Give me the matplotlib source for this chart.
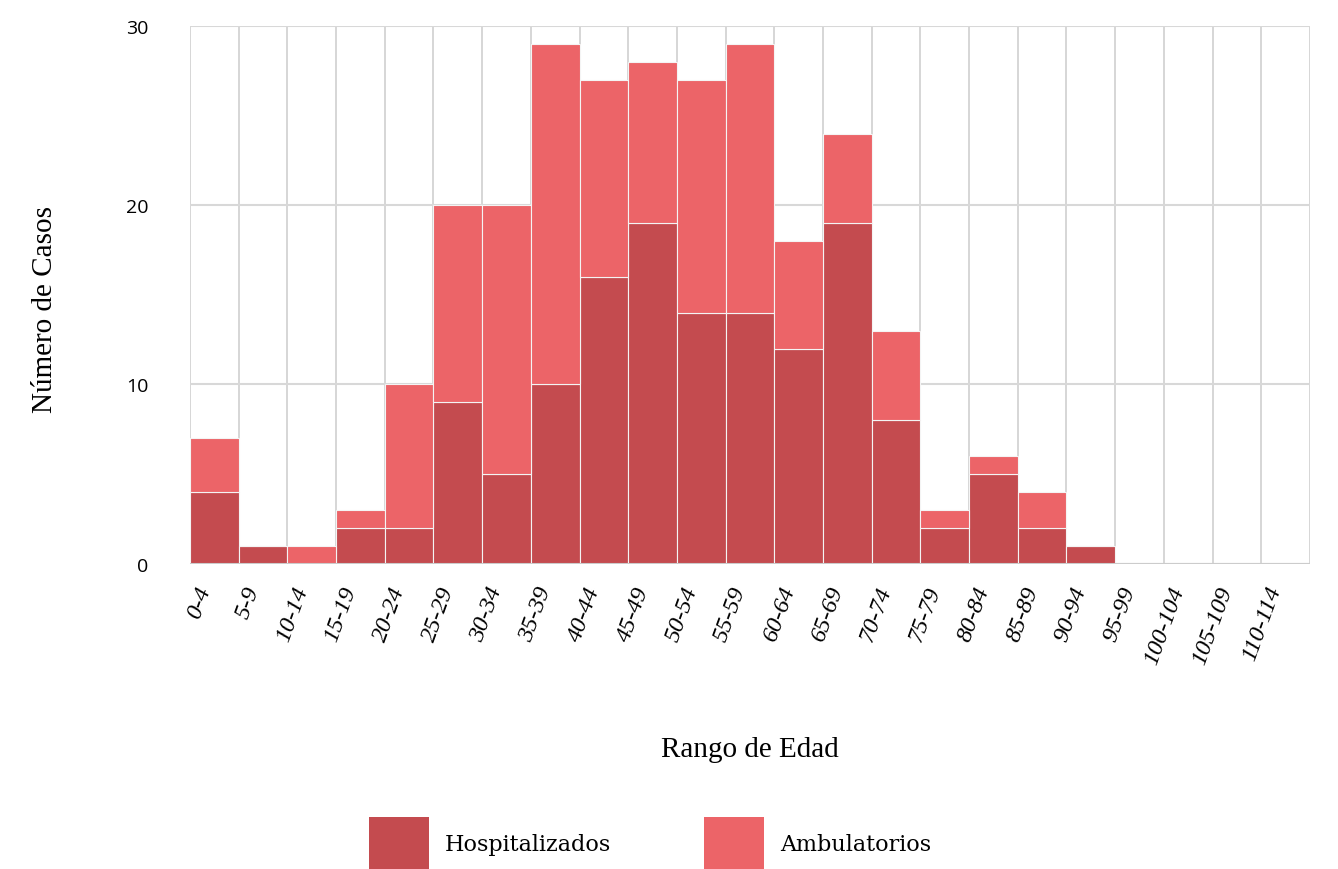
import numpy as np
import matplotlib.pyplot as plt
from matplotlib.patches import Patch

rangos = ["0-4", "5-9", "10-14", "15-19", "20-24", "25-29", "30-34", "35-39",
          "40-44", "45-49", "50-54", "55-59", "60-64", "65-69", "70-74",
          "75-79", "80-84", "85-89", "90-94", "95-99", "100-104", "105-109",
          "110-114"]
hospitalizados = [4, 1, 0, 2, 2, 9, 5, 10, 16, 19, 14, 14, 12, 19, 8, 2, 5, 2, 1, 0, 0, 0, 0]
ambulatorios = [3, 0, 1, 1, 8, 11, 15, 19, 11, 9, 13, 15, 6, 5, 5, 1, 1, 2, 0, 0, 0, 0, 0]

c_hosp = "#c44b4f"
c_amb = "#ec6468"

fig = plt.figure(figsize=(13.38, 8.7), dpi=100)
ax = fig.add_axes([0.142, 0.351, 0.837, 0.618])

x = np.arange(len(rangos))
ax.bar(x, hospitalizados, width=1.0, color=c_hosp, edgecolor="#f4f4f4", linewidth=0.8, zorder=3)
ax.bar(x, ambulatorios, width=1.0, bottom=hospitalizados, color=c_amb,
       edgecolor="#f4f4f4", linewidth=0.8, zorder=3)

ax.set_xlim(-0.5, len(rangos) - 0.5)
ax.set_ylim(0, 30)
ax.set_yticks([0, 10, 20, 30])
ax.set_xticks(x)
ax.set_xticks(np.arange(-0.5, len(rangos)), minor=True)
ax.tick_params(axis="y", labelsize=14, pad=30, length=0)
ax.tick_params(axis="x", which="both", length=0, pad=14)
ax.set_xticklabels(rangos, rotation=70, ha="right", va="top")
for lbl in ax.get_xticklabels():
    lbl.set_fontfamily("Liberation Serif")
    lbl.set_fontstyle("italic")
    lbl.set_fontsize(17.5)
for lbl in ax.get_yticklabels():
    lbl.set_fontfamily("Open Sans")

# grid: vertical lines at category boundaries, horizontal at y ticks
ax.grid(axis="x", which="minor", color="#d0d0d0", linewidth=1.2, zorder=0)
ax.grid(axis="y", which="major", color="#d8d8d8", linewidth=1.5, zorder=0)
for s in ax.spines.values():
    s.set_visible(False)
ax.axhline(0, color="#cccccc", linewidth=1.5, zorder=4)

ax.set_ylabel("Número de Casos", family="Liberation Serif", fontsize=21)
ax.yaxis.set_label_coords(-0.118, 0.474)
ax.set_xlabel("Rango de Edad", family="Liberation Serif", fontsize=21, labelpad=50)

handles = [Patch(facecolor=c_hosp, label="Hospitalizados"),
           Patch(facecolor=c_amb, label="Ambulatorios")]
fig.legend(handles=handles, loc="center", bbox_to_anchor=(0.486, 0.029), ncol=2,
           frameon=False, handlelength=2.7, handleheight=3.3, handletextpad=0.7,
           columnspacing=4.2, prop={"family": "DejaVu Serif", "size": 16})

fig.savefig("out.png", dpi=100)
